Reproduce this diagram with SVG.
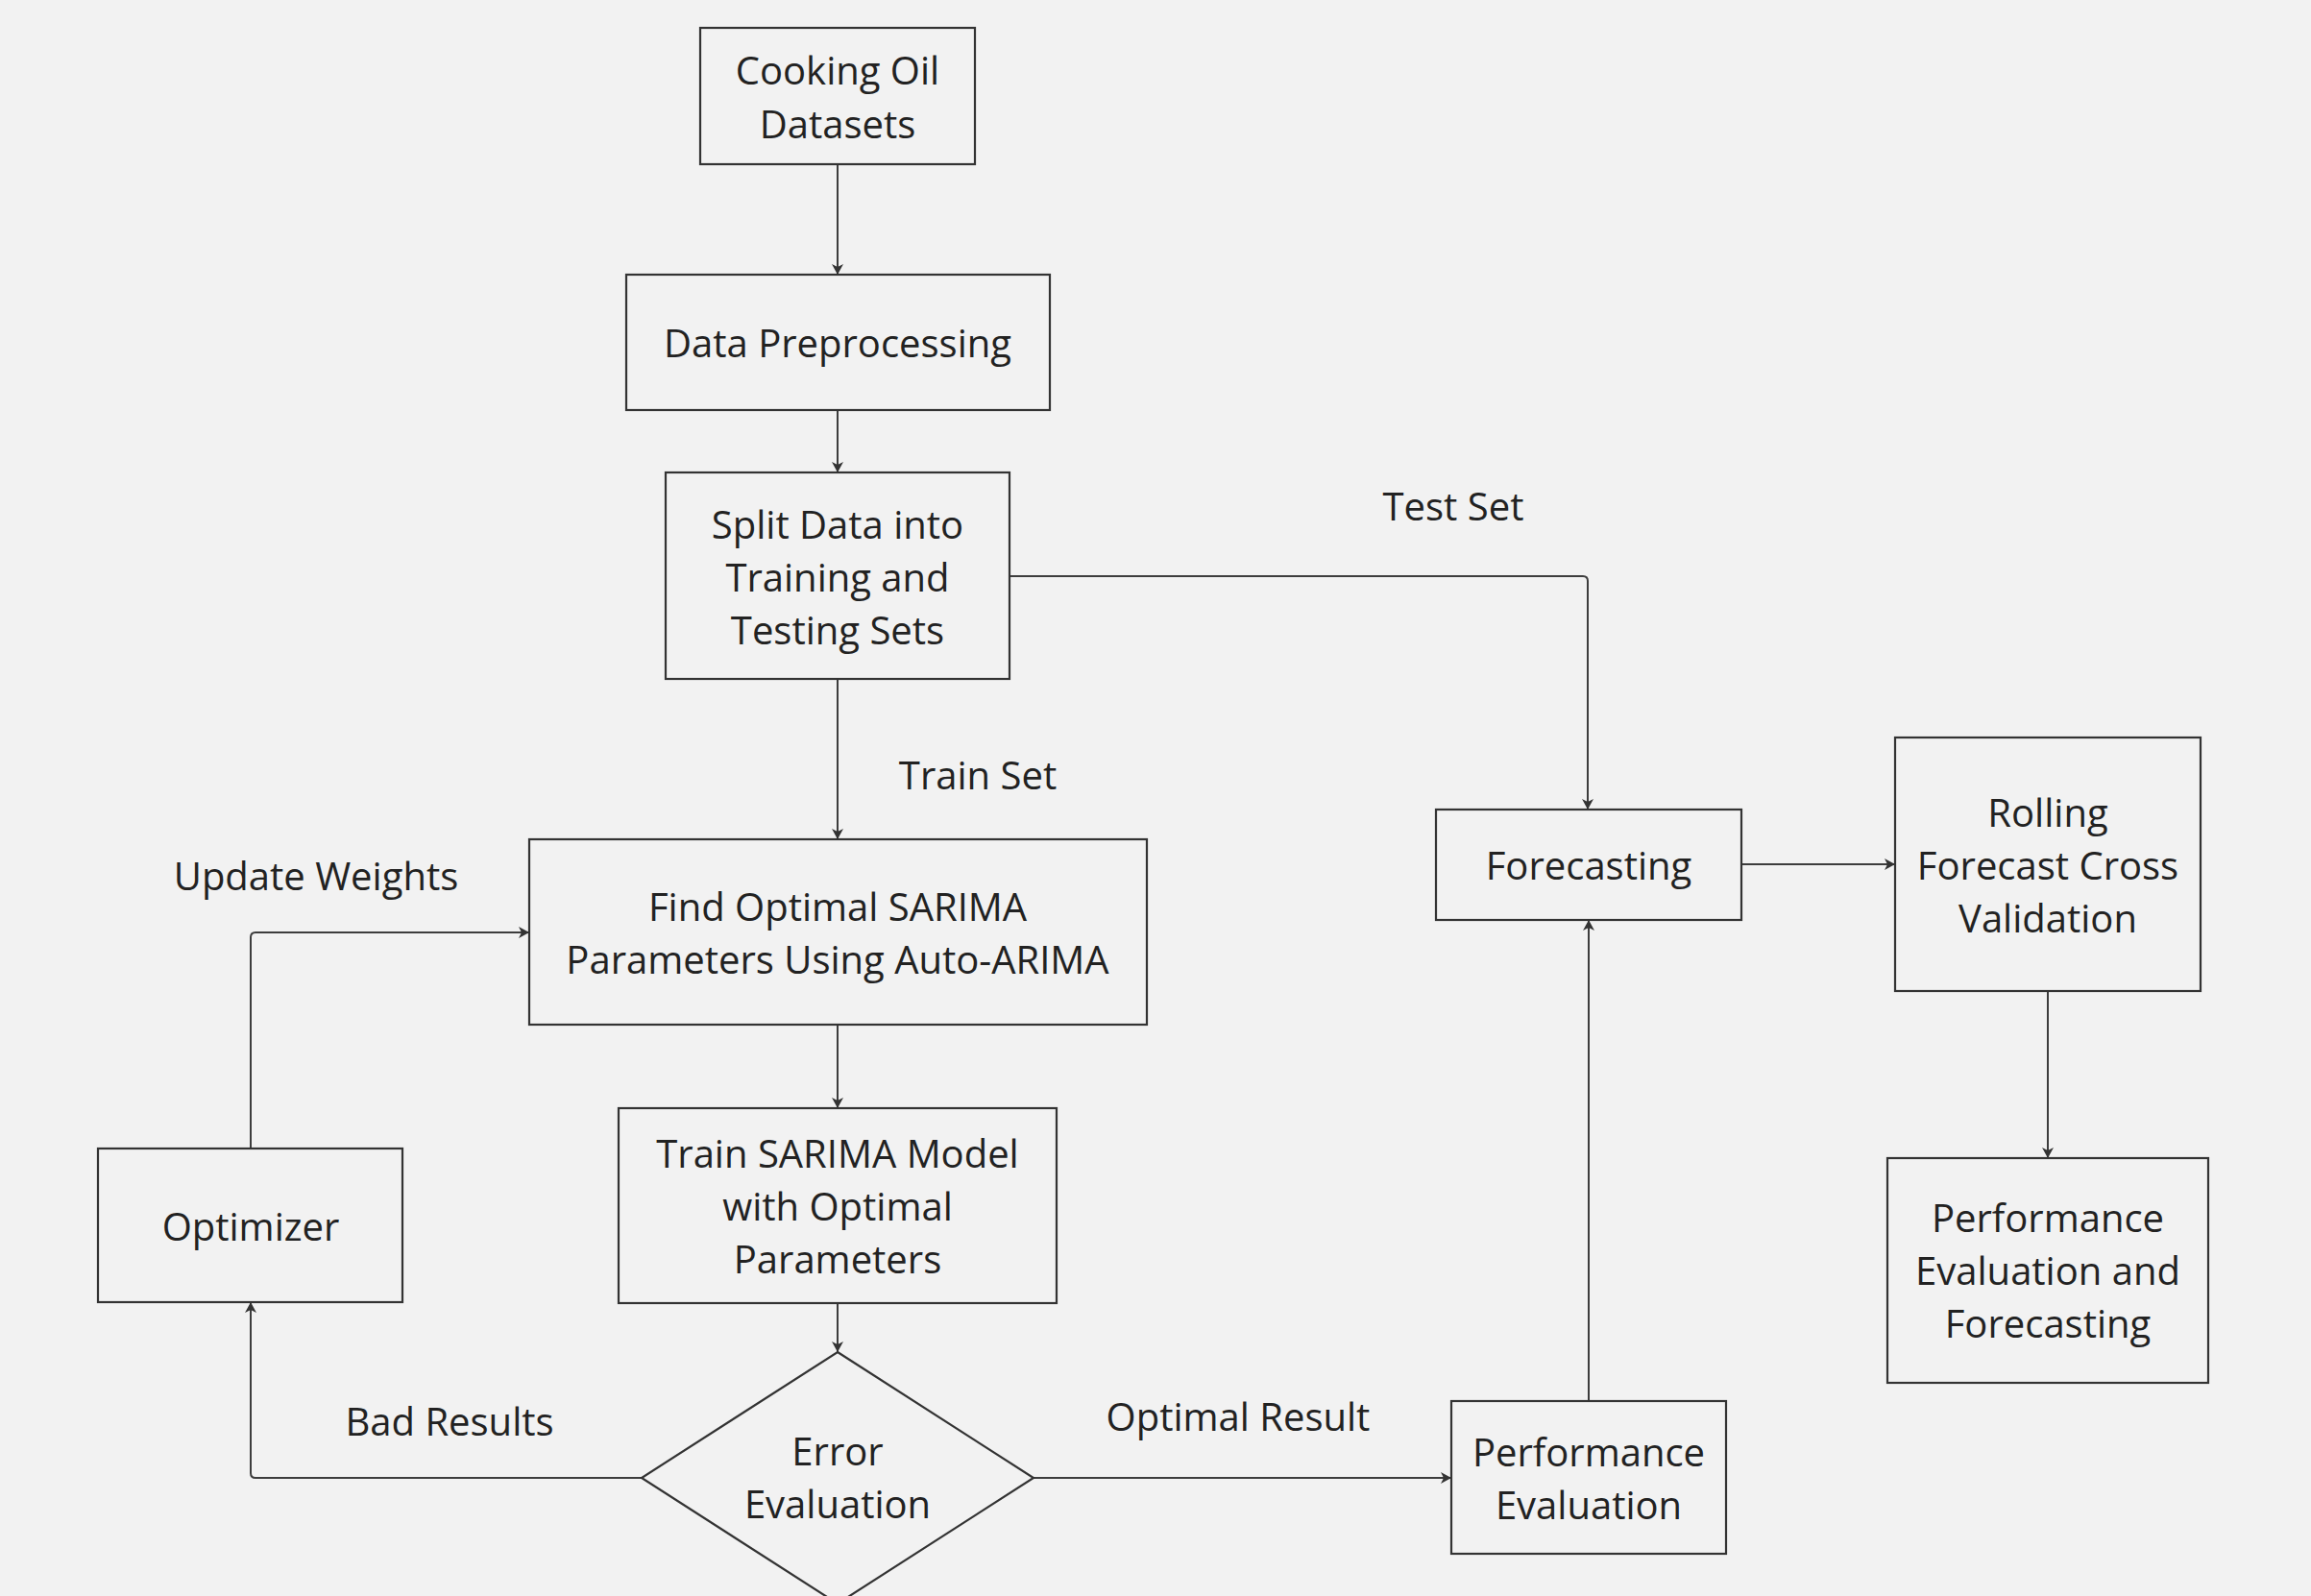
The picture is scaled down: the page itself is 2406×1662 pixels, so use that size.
<svg xmlns="http://www.w3.org/2000/svg" width="2406" height="1662" viewBox="0 0 2406 1662">
<style>
.box{fill:none;stroke:#333333;stroke-width:2.2}
.t{font-family:"Open Sans","Noto Sans","DejaVu Sans",sans-serif;font-size:40px;fill:#222222;text-anchor:middle}
.c{fill:none;stroke:#3d3d3d;stroke-width:2}
</style>
<defs>
<marker id="ah" markerUnits="userSpaceOnUse" markerWidth="14" markerHeight="14" refX="11" refY="6" orient="auto">
<path d="M0,0 L11,6 L0,12 L3,6 z" fill="#333333"/>
</marker>
</defs>
<rect width="2406" height="1662" fill="#f2f2f2"/>
<g id="connectors">
<path class="c" d="M872,171 V286" marker-end="url(#ah)"/>
<path class="c" d="M872,427 V492" marker-end="url(#ah)"/>
<path class="c" d="M872,707 V874" marker-end="url(#ah)"/>
<path class="c" d="M872,1067 V1154" marker-end="url(#ah)"/>
<path class="c" d="M872,1357 V1408" marker-end="url(#ah)"/>
<path class="c" d="M1051,600 H1648 Q1653,600 1653,605 V843" marker-end="url(#ah)"/>
<path class="c" d="M1076,1539 H1511" marker-end="url(#ah)"/>
<path class="c" d="M1654,1459 V958" marker-end="url(#ah)"/>
<path class="c" d="M1813,900 H1973" marker-end="url(#ah)"/>
<path class="c" d="M2132,1032 V1206" marker-end="url(#ah)"/>
<path class="c" d="M668,1539 H266 Q261,1539 261,1534 V1356" marker-end="url(#ah)"/>
<path class="c" d="M261,1196 V976 Q261,971 266,971 H551" marker-end="url(#ah)"/>
<text class="t" x="1513" y="542">Test Set</text>
<text class="t" x="1018" y="822">Train Set</text>
<text class="t" x="329" y="927">Update Weights</text>
<text class="t" x="468" y="1495">Bad Results</text>
<text class="t" x="1289" y="1490">Optimal Result</text>
</g>
<g id="n1"><rect class="box" x="729" y="29" width="286" height="142"/><text class="t" x="872" y="88">Cooking Oil</text><text class="t" x="872" y="144">Datasets</text></g>
<g id="n2"><rect class="box" x="652" y="286" width="441" height="141"/><text class="t" x="872" y="372">Data Preprocessing</text></g>
<g id="n3"><rect class="box" x="693" y="492" width="358" height="215"/><text class="t" x="872" y="561">Split Data into</text><text class="t" x="872" y="616">Training and</text><text class="t" x="872" y="671">Testing Sets</text></g>
<g id="n4"><rect class="box" x="551" y="874" width="643" height="193"/><text class="t" x="872" y="959">Find Optimal SARIMA</text><text class="t" x="872" y="1014">Parameters Using Auto-ARIMA</text></g>
<g id="n5"><rect class="box" x="644" y="1154" width="456" height="203"/><text class="t" x="872" y="1216">Train SARIMA Model</text><text class="t" x="872" y="1271">with Optimal</text><text class="t" x="872" y="1326">Parameters</text></g>
<g id="n6"><rect class="box" x="102" y="1196" width="317" height="160"/><text class="t" x="261" y="1292">Optimizer</text></g>
<g id="n7"><polygon class="box" points="872,1408 1076,1539 872,1670 668,1539"/><text class="t" x="872" y="1526">Error</text><text class="t" x="872" y="1581">Evaluation</text></g>
<g id="n8"><rect class="box" x="1495" y="843" width="318" height="115"/><text class="t" x="1654" y="916">Forecasting</text></g>
<g id="n9"><rect class="box" x="1973" y="768" width="318" height="264"/><text class="t" x="2132" y="861">Rolling</text><text class="t" x="2132" y="916">Forecast Cross</text><text class="t" x="2132" y="971">Validation</text></g>
<g id="n10"><rect class="box" x="1965" y="1206" width="334" height="234"/><text class="t" x="2132" y="1283">Performance</text><text class="t" x="2132" y="1338">Evaluation and</text><text class="t" x="2132" y="1393">Forecasting</text></g>
<g id="n11"><rect class="box" x="1511" y="1459" width="286" height="159"/><text class="t" x="1654" y="1527">Performance</text><text class="t" x="1654" y="1582">Evaluation</text></g>
</svg>
